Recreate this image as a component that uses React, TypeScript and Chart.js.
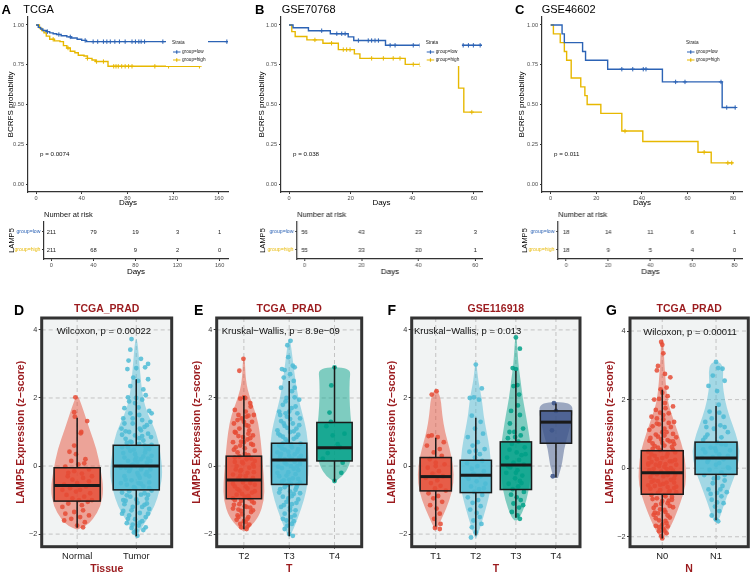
import React, { useEffect, useRef } from "react";
import { Chart, registerables } from "chart.js";

Chart.register(...registerables);

const FONT = "'Liberation Sans', Arial, Helvetica, sans-serif";
Chart.defaults.font.family = FONT;

// ---------- colours ----------
const BLUE = "#2C63B5";
const YELLOW = "#E7B800";
const NPG_RED = "#E64B35";
const NPG_BLUE = "#4DBBD5";
const NPG_GREEN = "#00A087";
const NPG_NAVY = "#3C5488";
const DARK_RED = "#9B1B1E";
const PANEL_BG = "#F1F3F3";

// ---------- Kaplan–Meier data ----------
const KM_Y_TICKS = [0, 0.25, 0.5, 0.75, 1];
const RISK_GROUPS = ["group=high", "group=low"];
const STRATA = ["group=low", "group=high"];

// A: TCGA
const A_X_TICKS = [0, 40, 80, 120, 160];
const A_LOW_T = [0, 2, 4, 6, 9, 12, 15, 18, 22, 27, 31, 36, 40, 44, 168];
const A_LOW_S = [1, 0.985, 0.975, 0.965, 0.958, 0.95, 0.945, 0.94, 0.932, 0.925, 0.918, 0.91, 0.903, 0.895, 0.895];
const A_HIGH_T = [0, 3, 5, 7, 9, 12, 16, 21, 24, 27, 30, 34, 37, 42, 45, 49, 52, 63, 143];
const A_HIGH_S = [1, 0.98, 0.965, 0.95, 0.93, 0.91, 0.9, 0.895, 0.87, 0.855, 0.835, 0.825, 0.81, 0.805, 0.79, 0.78, 0.77, 0.74, 0.74];
const A_LOW_CENS = [10, 20, 30, 43, 50, 54, 59, 62, 65, 69, 73, 78, 84, 87, 90, 92, 95, 111, 167];
const A_HIGH_CENS = [15, 28, 45, 53, 59, 68, 70, 72, 75, 78, 81, 84, 104, 116, 143];
const A_RISK_LOW = [211, 79, 19, 3, 1];
const A_RISK_HIGH = [211, 68, 9, 2, 0];
const A_PVAL = "p = 0.0074";

// B: GSE70768
const B_X_TICKS = [0, 20, 40, 60];
const B_LOW_T = [0, 1.3, 6.3, 13.4, 19.2, 21, 31.3, 62.6];
const B_LOW_S = [1, 0.982, 0.964, 0.945, 0.925, 0.902, 0.872, 0.872];
const B_HIGH_T = [0, 0.9, 2, 5.8, 11, 16, 21.2, 23, 37.7, 55, 56.7, 62.6];
const B_HIGH_S = [1, 0.958, 0.927, 0.906, 0.885, 0.845, 0.818, 0.79, 0.752, 0.603, 0.452, 0.452];
const B_LOW_CENS = [10.6, 15.5, 17.1, 18.2, 22.5, 25.7, 26.8, 27.9, 29, 32.8, 34.4, 40.3, 42.5, 56.5, 58.2, 59.8, 62];
const B_HIGH_CENS = [8.4, 13.8, 17.6, 18.7, 19.8, 26.8, 30.6, 33.8, 36, 40.3, 42.5, 59.3];
const B_RISK_LOW = [56, 43, 23, 3];
const B_RISK_HIGH = [55, 33, 20, 1];
const B_PVAL = "p = 0.038";

// C: GSE46602
const C_X_TICKS = [0, 20, 40, 60, 80];
const C_LOW_T = [0, 5, 6, 14, 15.3, 25, 49, 75.2, 81.2];
const C_LOW_S = [1, 0.944, 0.889, 0.833, 0.778, 0.722, 0.642, 0.481, 0.481];
const C_HIGH_T = [0, 1.2, 4.2, 6, 7, 9, 13.2, 15, 16, 22, 31.2, 40.4, 64.6, 70.4, 80];
const C_HIGH_S = [1, 0.944, 0.889, 0.833, 0.778, 0.667, 0.611, 0.556, 0.5, 0.444, 0.333, 0.267, 0.2, 0.133, 0.133];
const C_LOW_CENS = [31.2, 36, 40.6, 41.8, 54.8, 58.9, 74.7, 77.2, 80.9];
const C_HIGH_CENS = [32.6, 67.3, 77.7, 79.4];
const C_RISK_LOW = [18, 14, 11, 6, 1];
const C_RISK_HIGH = [18, 9, 5, 4, 0];
const C_PVAL = "p = 0.011";

// ---------- violin / box data ----------
const EXPR_Y_TICKS = [-2, 0, 2, 4];

// D: tissue
const D_CATS = ["Normal", "Tumor"];
const D_NORMAL_VIOLIN = [[-1.86, 0.02], [-1.77, 0.14], [-1.57, 0.27], [-1.18, 0.4], [-0.69, 0.45], [-0.1, 0.4], [0.49, 0.33], [1.08, 0.21], [1.67, 0.1], [2.05, 0.02]];
const D_TUMOR_VIOLIN = [[-2.08, 0.02], [-1.9, 0.06], [-1.6, 0.17], [-1.2, 0.31], [-0.7, 0.4], [-0.2, 0.45], [0.5, 0.4], [1.0, 0.34], [1.5, 0.2], [2.0, 0.11], [2.84, 0.06], [3.73, 0.02]];
const D_NORMAL_BOX = [-1.81, -1.03, -0.57, -0.05, 1.42];
const D_TUMOR_BOX = [-2.06, -0.7, 0, 0.61, 2.55];
const D_NORMAL_PTS = [[-0.03,2.02],[-0.05,1.58],[0.17,1.32],[-0.04,1.45],[0.07,1.0],[0.06,0.96],[-0.13,0.42],[-0.02,0.35],[0.14,0.2],[-0.1,0.15],[0.02,0.05],[0.12,0.08],[-0.2,-0.02],[0.2,-0.1],[-0.05,-0.15],[0.08,-0.22],[-0.16,-0.3],[0.1,-0.35],[-0.08,-0.4],[0.2,-0.45],[0.0,-0.5],[-0.22,-0.55],[0.15,-0.6],[-0.12,-0.65],[0.05,-0.7],[-0.02,-0.75],[0.22,-0.8],[-0.18,-0.85],[0.12,-0.9],[-0.08,-0.95],[0.03,-1.0],[0.18,-1.05],[-0.15,-1.1],[0.08,-1.15],[-0.25,-1.2],[0.1,-1.3],[-0.05,-1.35],[-0.2,-1.4],[0.2,-1.45],[0.05,-1.5],[-0.1,-1.55],[-0.22,-1.6],[0.13,-1.65],[0.0,-1.75],[0.1,-1.8],[-0.15,-0.2],[0.25,-0.3],[-0.25,-0.7],[0.25,-1.0],[-0.05,0.6]];
const D_TUMOR_PTS = [[-0.08,3.73],[-0.1,3.42],[-0.13,3.1],[0.08,3.15],[0.2,3.0],[-0.15,2.85],[0.0,2.88],[0.15,2.9],[-0.05,2.6],[0.03,2.5],[0.2,2.55],[-0.1,2.35],[0.12,2.25],[-0.14,2.02],[0.0,2.0],[0.16,2.08],[-0.02,1.85],[0.22,1.62],[0.26,1.55],[-0.2,1.7],[0.05,1.5],[-0.22,1.4],[0.1,1.35],[-0.06,1.25],[0.18,1.2],[-0.25,1.1],[0.08,1.05],[-0.12,1.0],[0.2,0.95],[-0.02,0.9],[0.25,0.85],[-0.18,0.8],[0.12,0.75],[-0.08,0.7],[0.05,0.65],[-0.24,0.55],[0.22,0.5],[-0.1,0.45],[0.15,0.4],[-0.02,0.35],[0.26,0.3],[-0.2,0.25],[0.08,0.2],[-0.14,0.15],[0.18,0.1],[-0.05,0.05],[0.1,-0.02],[-0.26,-0.05],[0.24,-0.1],[-0.12,-0.15],[0.02,-0.2],[0.16,-0.25],[-0.2,-0.3],[0.06,-0.35],[-0.08,-0.42],[0.22,-0.48],[-0.16,-0.55],[0.12,-0.6],[-0.02,-0.66],[0.26,-0.72],[-0.24,-0.78],[0.08,-0.84],[-0.1,-0.9],[0.18,-0.96],[-0.18,-1.02],[0.02,-1.08],[0.14,-1.14],[-0.06,-1.2],[0.22,-1.26],[-0.22,-1.32],[0.06,-1.38],[-0.12,-1.45],[0.16,-1.5],[-0.02,-1.56],[0.1,-1.62],[-0.16,-1.68],[0.04,-1.75],[-0.08,-1.82],[0.12,-1.88],[-0.04,-1.95],[0.02,-2.05],[-0.1,1.55],[0.14,0.6],[-0.18,-0.05],[0.2,-0.85],[-0.26,0.0],[0.0,0.25],[0.04,-0.5],[-0.22,-1.0],[0.24,0.15]];
const D_TUMOR_PTS_MORE = [[0.05,0.82],[-0.16,0.68],[0.2,0.58],[-0.04,0.48],[0.12,0.28],[-0.22,0.38],[0.02,0.12],[-0.1,-0.08],[0.18,-0.18],[-0.18,-0.4],[0.08,-0.52],[-0.04,-0.62],[0.22,-0.64],[-0.12,-0.74],[0.14,-0.8],[0.0,-0.98],[-0.2,-1.12],[0.1,-1.2],[-0.08,-1.3],[0.2,-1.4],[-0.14,-1.55],[0.06,-1.66],[-0.06,-1.72],[0.16,-1.8],[0.0,-1.9],[-0.2,1.25],[0.14,1.15],[-0.06,1.4],[0.04,1.72],[-0.12,1.9],[0.1,1.95],[0.24,1.3],[-0.24,0.92],[0.1,0.88],[-0.14,0.55],[0.26,0.62],[-0.02,0.18],[0.22,-0.3],[-0.26,-0.5],[0.04,-0.28],[-0.08,0.02],[0.16,0.48],[-0.18,1.02],[0.06,1.1],[0.18,-1.1],[-0.24,-1.4],[0.08,-0.1],[-0.1,0.72],[0.2,0.22],[-0.16,-0.86]];

// E: T stage TCGA
const E_CATS = ["T2", "T3", "T4"];
const E_T2_VIOLIN = [[-1.9, 0.03], [-1.8, 0.13], [-1.5, 0.33], [-1.0, 0.45], [-0.5, 0.45], [0, 0.42], [0.5, 0.39], [1.0, 0.35], [1.5, 0.28], [2.0, 0.13], [2.5, 0.04], [3.2, 0.02]];
const E_T3_VIOLIN = [[-2.05, 0.02], [-1.9, 0.08], [-1.5, 0.2], [-1.0, 0.33], [-0.5, 0.41], [0, 0.43], [0.5, 0.42], [1.0, 0.39], [1.5, 0.3], [2.0, 0.2], [2.5, 0.14], [3.0, 0.09], [3.75, 0.02]];
const E_T4_VIOLIN = [[-0.45, 0.03], [-0.3, 0.18], [0, 0.33], [0.5, 0.4], [1.0, 0.39], [1.5, 0.35], [2.0, 0.33], [2.5, 0.33], [2.9, 0.36]];
const E_T2_BOX = [-1.86, -0.96, -0.41, 0.29, 2.06];
const E_T3_BOX = [-2.06, -0.54, 0.18, 0.67, 2.5];
const E_T4_BOX = [-0.46, 0.15, 0.54, 1.28, 2.94];
const E_T2_PTS = [[-0.01,3.15],[-0.1,2.8],[0.0,2.02],[-0.08,1.98],[0.03,2.0],[-0.2,1.65],[0.15,1.75],[-0.12,1.5],[0.1,1.48],[0.22,1.5],[-0.05,1.4],[0.18,1.3],[-0.22,1.25],[0.05,1.2],[-0.1,1.1],[0.12,1.05],[-0.18,0.98],[0.2,0.9],[-0.02,0.85],[0.08,0.78],[-0.24,0.7],[0.16,0.65],[-0.08,0.6],[0.02,0.52],[0.24,0.45],[-0.14,0.4],[0.1,0.32],[-0.2,0.25],[0.06,0.2],[-0.04,0.12],[0.2,0.05],[-0.16,0.0],[0.12,-0.05],[-0.06,-0.12],[0.22,-0.18],[-0.24,-0.25],[0.04,-0.3],[-0.12,-0.36],[0.16,-0.42],[-0.02,-0.48],[0.24,-0.55],[-0.2,-0.6],[0.08,-0.66],[-0.1,-0.72],[0.18,-0.78],[-0.16,-0.84],[0.02,-0.9],[0.12,-0.96],[-0.06,-1.02],[0.22,-1.08],[-0.22,-1.14],[0.06,-1.2],[-0.12,-1.28],[0.16,-1.35],[-0.04,-1.42],[0.1,-1.5],[-0.16,-1.58],[0.04,-1.65],[0.12,-1.72],[-0.06,-1.8],[0.08,-1.78],[-0.18,0.55],[0.2,-0.35],[-0.24,-0.95],[0.0,0.7],[0.14,1.85],[-0.14,-1.45],[0.24,0.15],[-0.08,-0.15],[0.0,1.3]];
const E_T2_PTS_MORE = [[0.04,1.6],[-0.14,1.35],[0.1,1.18],[-0.2,1.0],[0.14,0.82],[-0.06,0.72],[0.2,0.62],[-0.22,0.48],[0.02,0.36],[-0.1,0.28],[0.16,0.22],[-0.02,0.08],[0.22,-0.02],[-0.18,-0.1],[0.08,-0.2],[-0.08,-0.28],[0.14,-0.5],[-0.24,-0.52],[0.04,-0.6],[-0.14,-0.68],[0.24,-0.74],[-0.04,-0.82],[0.1,-0.88],[-0.2,-1.0],[0.18,-1.04],[-0.1,-1.12],[0.02,-1.18],[-0.24,-1.25],[0.14,-1.22],[-0.06,-1.32],[0.2,-1.3],[-0.12,-1.5],[0.08,-1.55],[0.0,-1.62],[-0.08,-1.7],[0.06,-1.85],[-0.2,0.12],[0.1,0.95],[-0.12,0.88],[0.06,1.45]];
const E_T3_PTS = [[0.03,3.68],[-0.04,3.55],[-0.02,3.2],[0.08,2.95],[0.12,2.9],[-0.1,2.82],[-0.16,2.85],[0.02,2.7],[-0.12,2.6],[0.1,2.5],[-0.18,2.3],[-0.06,2.0],[0.12,2.02],[0.22,1.95],[-0.14,1.8],[0.05,1.7],[-0.22,1.6],[0.18,1.55],[-0.05,1.45],[0.24,1.4],[-0.18,1.32],[0.08,1.25],[-0.1,1.18],[0.16,1.1],[-0.26,1.05],[0.02,1.0],[0.2,0.92],[-0.14,0.86],[0.1,0.8],[-0.04,0.72],[0.25,0.66],[-0.22,0.6],[0.06,0.55],[-0.1,0.48],[0.18,0.42],[-0.18,0.36],[0.0,0.3],[0.22,0.24],[-0.24,0.18],[0.12,0.12],[-0.06,0.05],[0.04,0.0],[-0.16,-0.06],[0.2,-0.12],[-0.02,-0.18],[0.14,-0.24],[-0.22,-0.3],[0.08,-0.36],[-0.12,-0.42],[0.24,-0.48],[-0.04,-0.55],[0.16,-0.62],[-0.2,-0.68],[0.02,-0.75],[0.1,-0.82],[-0.14,-0.9],[0.2,-0.98],[-0.06,-1.05],[0.06,-1.12],[-0.18,-1.2],[0.14,-1.3],[-0.1,-1.4],[0.04,-1.5],[-0.14,-1.55],[0.1,-1.62],[-0.04,-1.75],[0.0,-2.0],[0.08,-2.05],[-0.2,0.9],[0.18,0.0],[-0.26,-0.2],[0.24,-0.8],[-0.08,1.55],[0.02,-1.3],[0.12,2.3],[-0.1,0.2]];
const E_T3_PTS_MORE = [[0.06,2.2],[-0.08,1.9],[0.14,1.75],[-0.2,1.5],[0.02,1.38],[-0.12,1.25],[0.22,1.2],[-0.04,1.12],[0.1,1.02],[-0.24,0.95],[0.16,0.85],[-0.08,0.78],[0.04,0.64],[-0.16,0.52],[0.2,0.5],[-0.02,0.42],[0.12,0.34],[-0.2,0.28],[0.06,0.22],[-0.1,0.1],[0.24,0.06],[-0.24,-0.02],[0.1,-0.08],[-0.06,-0.28],[0.2,-0.38],[-0.16,-0.46],[0.04,-0.52],[-0.1,-0.62],[0.14,-0.7],[-0.22,-0.78],[0.06,-0.88],[-0.02,-0.95],[0.16,-1.08],[-0.12,-1.15],[0.02,-1.22],[0.12,-1.45],[-0.06,-1.6],[0.06,-1.7],[-0.1,-1.85],[0.0,1.6],[-0.14,0.66],[0.18,-0.55],[-0.26,0.4],[0.26,0.3],[0.0,-0.4]];
const E_T4_PTS = [[0.0,2.9],[-0.07,2.37],[-0.11,1.57],[-0.18,1.17],[-0.04,0.9],[0.07,0.64],[-0.15,0.38],[-0.26,0.22],[0.18,0.1],[0.15,-0.2],[0.0,-0.44],[0.12,0.55],[-0.08,1.3],[0.22,0.95]];

// F: T stage GSE116918
const F_CATS = ["T1", "T2", "T3", "T4"];
const F_T1_VIOLIN = [[-1.85, 0.03], [-1.5, 0.17], [-1.0, 0.35], [-0.5, 0.45], [0, 0.44], [0.5, 0.35], [1.0, 0.23], [1.5, 0.16], [2.0, 0.125], [2.25, 0.03]];
const F_T2_VIOLIN = [[-2.1, 0.02], [-2.0, 0.06], [-1.5, 0.19], [-1.0, 0.31], [-0.5, 0.4], [0, 0.38], [0.5, 0.35], [1.0, 0.27], [1.5, 0.19], [2.0, 0.15], [2.5, 0.06], [3.0, 0.02]];
const F_T3_VIOLIN = [[-1.6, 0.03], [-1.5, 0.12], [-1.0, 0.27], [-0.5, 0.35], [0, 0.38], [0.5, 0.38], [1.0, 0.32], [1.5, 0.25], [2.0, 0.17], [2.5, 0.12], [3.0, 0.06], [3.8, 0.02]];
const F_T4_VIOLIN = [[-0.35, 0.05], [0, 0.15], [0.5, 0.2], [1.0, 0.32], [1.5, 0.42], [1.88, 0.4]];
const F_T1_BOX = [-1.78, -0.73, -0.31, 0.25, 0.83];
const F_T2_BOX = [-2.04, -0.78, -0.27, 0.17, 1.42];
const F_T3_BOX = [-1.52, -0.69, 0.03, 0.71, 2.8];
const F_T4_BOX = [-0.34, 0.67, 1.29, 1.62, 1.84];
const F_T1_PTS = [[-0.1,2.1],[0.02,2.2],[-0.18,0.88],[-0.1,0.9],[0.05,0.85],[0.2,0.7],[-0.22,0.6],[0.1,0.5],[-0.05,0.4],[0.15,0.3],[-0.15,0.2],[0.0,0.1],[0.22,0.05],[-0.2,-0.05],[0.08,-0.15],[-0.08,-0.22],[0.18,-0.3],[-0.25,-0.35],[0.04,-0.42],[-0.12,-0.5],[0.12,-0.58],[-0.02,-0.66],[0.25,-0.72],[-0.18,-0.8],[0.06,-0.88],[-0.06,-0.95],[0.16,-1.05],[-0.14,-1.15],[0.02,-1.25],[0.1,-1.4],[-0.04,-1.55],[0.12,-1.7],[-0.02,-1.82],[0.1,-1.85],[0.0,0.0]];
const F_T2_PTS = [[0.0,2.98],[0.15,2.28],[-0.05,2.02],[-0.15,2.0],[0.08,1.95],[-0.1,1.48],[0.12,1.3],[-0.02,1.1],[0.18,0.95],[-0.2,0.85],[0.05,0.7],[-0.08,0.6],[0.22,0.5],[-0.16,0.42],[0.1,0.35],[-0.02,0.25],[0.16,0.15],[-0.22,0.08],[0.04,0.0],[-0.1,-0.08],[0.2,-0.15],[-0.06,-0.22],[0.12,-0.3],[-0.18,-0.38],[0.02,-0.45],[0.24,-0.52],[-0.12,-0.6],[0.08,-0.68],[-0.04,-0.76],[0.16,-0.85],[-0.2,-0.92],[0.06,-1.0],[-0.08,-1.08],[0.12,-1.18],[-0.14,-1.28],[0.02,-1.38],[0.1,-1.5],[-0.06,-1.6],[0.14,-1.7],[-0.1,-1.8],[0.0,-1.95],[-0.12,-2.1],[0.2,-0.65],[-0.24,-0.3],[0.0,0.45]];
const F_T3_PTS = [[0.0,3.78],[0.1,3.45],[-0.08,2.88],[0.0,2.85],[-0.06,2.35],[0.04,2.38],[0.08,2.1],[0.05,1.78],[-0.12,1.62],[0.1,1.5],[-0.15,1.25],[0.18,1.1],[-0.04,1.0],[0.12,0.9],[-0.2,0.82],[0.06,0.72],[-0.1,0.65],[0.22,0.55],[-0.16,0.48],[0.02,0.4],[0.14,0.32],[-0.22,0.25],[0.08,0.18],[-0.06,0.1],[0.2,0.04],[-0.14,-0.04],[0.04,-0.12],[-0.24,-0.2],[0.16,-0.28],[-0.02,-0.36],[0.1,-0.44],[-0.18,-0.52],[0.06,-0.6],[-0.08,-0.68],[0.2,-0.76],[-0.12,-0.84],[0.02,-0.92],[0.12,-1.0],[-0.06,-1.1],[0.08,-1.22],[-0.1,-1.35],[0.04,-1.45],[0.1,-1.55],[-0.2,0.0],[0.24,0.35],[-0.02,0.85],[0.14,-0.5],[-0.16,1.0],[0.0,-0.2],[0.18,-1.15]];
const F_T4_PTS = [[-0.05,1.85],[0.0,1.62],[-0.1,1.05],[-0.08,-0.3]];

// G: N stage
const G_CATS = ["N0", "N1"];
const G_N0_VIOLIN = [[-2.05, 0.02], [-1.9, 0.09], [-1.5, 0.22], [-1.0, 0.34], [-0.5, 0.44], [0, 0.44], [0.5, 0.4], [1.0, 0.3], [1.5, 0.19], [2.0, 0.09], [3.0, 0.04], [3.75, 0.02]];
const G_N1_VIOLIN = [[-1.55, 0.03], [-1.5, 0.06], [-1.0, 0.16], [-0.5, 0.28], [0, 0.4], [0.5, 0.45], [1.0, 0.37], [1.5, 0.25], [2.0, 0.16], [2.5, 0.12], [2.8, 0.14], [3.1, 0.1]];
const G_N0_BOX = [-2.05, -0.76, -0.13, 0.51, 2.29];
const G_N1_BOX = [-1.52, -0.18, 0.3, 0.76, 1.81];
const G_N0_PTS = [[-0.02,3.68],[0.0,3.6],[0.02,3.35],[-0.08,2.98],[-0.1,2.85],[0.05,2.75],[0.15,2.65],[-0.03,2.3],[0.0,2.2],[0.1,2.1],[-0.15,2.0],[0.05,1.9],[0.2,1.8],[-0.12,1.7],[0.12,1.6],[-0.2,1.5],[0.02,1.42],[0.22,1.35],[-0.06,1.28],[0.16,1.2],[-0.24,1.12],[0.08,1.05],[-0.12,0.98],[0.26,0.9],[-0.02,0.84],[0.14,0.78],[-0.18,0.72],[0.04,0.66],[-0.08,0.6],[0.2,0.54],[-0.26,0.48],[0.1,0.42],[-0.14,0.36],[0.0,0.3],[0.24,0.24],[-0.2,0.18],[0.06,0.12],[-0.06,0.06],[0.16,0.0],[-0.24,-0.06],[0.12,-0.12],[-0.1,-0.18],[0.02,-0.24],[0.22,-0.3],[-0.16,-0.36],[0.08,-0.42],[-0.04,-0.48],[0.26,-0.54],[-0.22,-0.6],[0.14,-0.66],[-0.08,-0.72],[0.04,-0.78],[0.18,-0.84],[-0.18,-0.9],[0.0,-0.96],[0.1,-1.02],[-0.12,-1.08],[0.2,-1.14],[-0.04,-1.2],[0.06,-1.28],[-0.16,-1.36],[0.14,-1.44],[-0.06,-1.52],[0.08,-1.6],[-0.12,-1.68],[0.02,-1.76],[-0.06,-1.84],[0.08,-1.9],[-0.02,-1.98],[0.0,-2.05],[-0.26,0.1],[0.24,-0.2],[-0.2,-0.4],[0.22,0.7],[-0.1,1.3],[0.12,-0.95],[-0.24,0.8],[0.26,-0.7],[0.04,0.95],[-0.14,-1.3],[0.18,0.2],[-0.04,0.15],[0.1,-0.55],[-0.18,-0.15],[0.06,1.75]];
const G_N0_PTS_MORE = [[0.02,1.55],[-0.1,1.45],[0.12,1.32],[-0.18,1.22],[0.04,1.15],[0.2,1.0],[-0.08,0.92],[-0.22,0.88],[0.1,0.82],[0.0,0.74],[-0.14,0.64],[0.18,0.62],[-0.04,0.52],[0.24,0.46],[-0.2,0.4],[0.08,0.34],[-0.1,0.26],[0.14,0.2],[-0.26,0.14],[0.04,0.04],[-0.16,-0.02],[0.2,-0.08],[-0.02,-0.1],[0.1,-0.2],[-0.22,-0.26],[0.16,-0.34],[-0.08,-0.38],[0.02,-0.46],[-0.14,-0.52],[0.22,-0.58],[-0.04,-0.64],[0.12,-0.7],[-0.2,-0.78],[0.06,-0.82],[-0.1,-0.88],[0.18,-0.92],[-0.02,-1.04],[0.14,-1.1],[-0.16,-1.16],[0.04,-1.22],[-0.08,-1.32],[0.1,-1.38],[-0.12,-1.46],[0.06,-1.54],[0.0,-1.64],[-0.06,-1.72],[0.04,-1.82],[0.1,-1.7],[-0.24,0.3],[0.26,0.1],[-0.18,0.56],[0.2,0.78],[0.0,1.05],[-0.04,1.62],[0.08,2.35],[-0.06,2.02],[0.22,-0.42],[-0.26,-0.5],[0.08,-0.02],[-0.12,0.1]];
const G_N1_PTS = [[0.0,3.1],[0.04,2.92],[-0.06,2.7],[0.12,2.9],[0.16,2.55],[-0.14,2.4],[0.02,2.25],[0.05,1.85],[-0.12,1.65],[0.14,1.5],[-0.2,1.35],[0.08,1.25],[-0.04,1.15],[0.22,1.05],[-0.16,0.98],[0.1,0.9],[-0.24,0.82],[0.02,0.75],[0.18,0.68],[-0.1,0.6],[0.26,0.52],[-0.2,0.46],[0.06,0.4],[-0.06,0.32],[0.14,0.26],[-0.16,0.18],[0.0,0.1],[0.22,0.02],[-0.12,-0.05],[0.1,-0.12],[-0.22,-0.2],[0.04,-0.28],[0.16,-0.36],[-0.06,-0.44],[0.12,-0.52],[-0.14,-0.62],[0.02,-0.72],[0.1,-0.82],[-0.08,-0.92],[0.14,-1.02],[-0.02,-1.12],[0.06,-1.25],[-0.08,-1.38],[0.0,-1.5],[0.04,-1.55],[-0.26,0.3],[0.24,0.0],[-0.18,1.2],[0.2,-0.7],[0.0,0.5]];
const G_N1_PTS_MORE = [[0.06,1.62],[-0.08,1.45],[0.16,1.2],[-0.2,0.9],[0.1,0.7],[-0.02,0.58],[0.22,0.36],[-0.14,0.24],[0.06,0.15],[-0.24,0.55],[0.16,-0.2],[-0.04,-0.3],[0.08,-0.62],[-0.1,-0.75],[0.02,-1.0]];

// ---------- panel layout (positions / styles only) ----------
const KM_PANELS: any[] = [
  { letter: "A", title: "TCGA", letterX: 1.5, titleX: 23.3, lowT: A_LOW_T, lowS: A_LOW_S, highT: A_HIGH_T, highS: A_HIGH_S, lowC: A_LOW_CENS, highC: A_HIGH_CENS, xTicks: A_X_TICKS, riskLow: A_RISK_LOW, riskHigh: A_RISK_HIGH, pval: A_PVAL, xMin: -7, xMax: 168, areaLeft: 28, areaRight: 228, canvasRight: 236, riskAreaLeft: 44, yTitleX: 11, riskTitleX: 12 },
  { letter: "B", title: "GSE70768", letterX: 255, titleX: 281.7, lowT: B_LOW_T, lowS: B_LOW_S, highT: B_HIGH_T, highS: B_HIGH_S, lowC: B_LOW_CENS, highC: B_HIGH_CENS, xTicks: B_X_TICKS, riskLow: B_RISK_LOW, riskHigh: B_RISK_HIGH, pval: B_PVAL, xMin: -2.6, xMax: 62.6, areaLeft: 281, areaRight: 482, canvasRight: 489, riskAreaLeft: 297.3, yTitleX: 261.7, riskTitleX: 263.3 },
  { letter: "C", title: "GSE46602", letterX: 515, titleX: 541.7, lowT: C_LOW_T, lowS: C_LOW_S, highT: C_HIGH_T, highS: C_HIGH_S, lowC: C_LOW_CENS, highC: C_HIGH_CENS, xTicks: C_X_TICKS, riskLow: C_RISK_LOW, riskHigh: C_RISK_HIGH, pval: C_PVAL, xMin: -3.8, xMax: 83.9, areaLeft: 542, areaRight: 742, canvasRight: 752, riskAreaLeft: 558.3, yTitleX: 521.7, riskTitleX: 525 },
];

const VIOLIN_PANELS: any[] = [
  { letter: "D", letterX: 14, title: "TCGA_PRAD", xTitle: "Tissue", stat: "Wilcoxon, p = 0.00022", statX: 0.654, cats: D_CATS, canvasLeft: 0, canvasRight: 180, frameLeft: 41.7, frameRight: 171.7, titleX: 20.7, yMin: -2.37, yMax: 4.35,
    groups: [ { color: NPG_RED, violin: D_NORMAL_VIOLIN, box: D_NORMAL_BOX, pts: D_NORMAL_PTS }, { color: NPG_BLUE, violin: D_TUMOR_VIOLIN, box: D_TUMOR_BOX, pts: D_TUMOR_PTS.concat(D_TUMOR_PTS_MORE) } ] },
  { letter: "E", letterX: 194, title: "TCGA_PRAD", xTitle: "T", stat: "Kruskal\u2212Wallis, p = 8.9e\u221209", statX: 0.51, cats: E_CATS, canvasLeft: 185, canvasRight: 370, frameLeft: 216.7, frameRight: 361.7, titleX: 197.3, yMin: -2.37, yMax: 4.35,
    groups: [ { color: NPG_RED, violin: E_T2_VIOLIN, box: E_T2_BOX, pts: E_T2_PTS.concat(E_T2_PTS_MORE) }, { color: NPG_BLUE, violin: E_T3_VIOLIN, box: E_T3_BOX, pts: E_T3_PTS.concat(E_T3_PTS_MORE) }, { color: NPG_GREEN, violin: E_T4_VIOLIN, box: E_T4_BOX, pts: E_T4_PTS } ] },
  { letter: "F", letterX: 387.5, title: "GSE116918", xTitle: "T", stat: "Kruskal\u2212Wallis, p = 0.013", statX: 0.457, cats: F_CATS, canvasLeft: 380, canvasRight: 588, frameLeft: 411.7, frameRight: 580, titleX: 391.7, yMin: -2.37, yMax: 4.35,
    groups: [ { color: NPG_RED, violin: F_T1_VIOLIN, box: F_T1_BOX, pts: F_T1_PTS }, { color: NPG_BLUE, violin: F_T2_VIOLIN, box: F_T2_BOX, pts: F_T2_PTS }, { color: NPG_GREEN, violin: F_T3_VIOLIN, box: F_T3_BOX, pts: F_T3_PTS }, { color: NPG_NAVY, violin: F_T4_VIOLIN, box: F_T4_BOX, pts: F_T4_PTS } ] },
  { letter: "G", letterX: 606, title: "TCGA_PRAD", xTitle: "N", stat: "Wilcoxon, p = 0.00011", statX: 0.647, cats: G_CATS, canvasLeft: 598, canvasRight: 752, frameLeft: 630, frameRight: 748.3, titleX: 610, yMin: -2.29, yMax: 4.38,
    groups: [ { color: NPG_RED, violin: G_N0_VIOLIN, box: G_N0_BOX, pts: G_N0_PTS.concat(G_N0_PTS_MORE) }, { color: NPG_BLUE, violin: G_N1_VIOLIN, box: G_N1_BOX, pts: G_N1_PTS.concat(G_N1_PTS_MORE) } ] },
];

// ---------- helpers ----------
function rgba(hex: string, a: number) {
  const n = parseInt(hex.slice(1), 16);
  return `rgba(${(n >> 16) & 255},${(n >> 8) & 255},${n & 255},${a})`;
}

function survAt(t: number, T: number[], S: number[]) {
  let s = S[0];
  for (let i = 0; i < T.length; i++) if (T[i] <= t) s = S[i];
  return s;
}

const setTicks = (vals: number[]) => (s: any) => {
  s.ticks = vals.map((v) => ({ value: v }));
};

const axisGrid = (len: number) => ({ display: true, drawOnChartArea: false, drawTicks: true, tickLength: len, color: "#333", lineWidth: 1 });

// ---------- KM chart ----------
function kmPlugin(p: any) {
  return {
    id: "kmExtras",
    afterDatasetsDraw(chart: any) {
      const { ctx, chartArea: a, scales } = chart;
      const w = a.right - a.left;
      ctx.save();
      ctx.fillStyle = "#fff";
      ctx.fillRect(a.left + 0.69 * w, a.top + 20, 0.21 * w, 29);
      const lx = a.left + 0.72 * w;
      ctx.font = `4.7px ${FONT}`;
      ctx.textBaseline = "middle";
      ctx.textAlign = "left";
      ctx.fillStyle = "#222";
      ctx.fillText("Strata", lx, a.top + 26);
      [BLUE, YELLOW].forEach((c, i) => {
        const yy = a.top + 35 + i * 8;
        ctx.strokeStyle = c;
        ctx.lineWidth = 1.2;
        ctx.beginPath();
        ctx.moveTo(lx + 1, yy);
        ctx.lineTo(lx + 8.5, yy);
        ctx.moveTo(lx + 4.75, yy - 1.8);
        ctx.lineTo(lx + 4.75, yy + 1.8);
        ctx.stroke();
        ctx.fillStyle = "#222";
        ctx.fillText(STRATA[i], lx + 10, yy);
      });
      ctx.font = `6.2px ${FONT}`;
      ctx.fillStyle = "#111";
      ctx.fillText(p.pval, a.left + 0.06 * w, scales.y.getPixelForValue(0.19));
      ctx.restore();
    },
  };
}

function kmConfig(p: any) {
  const toXY = (T: number[], S: number[]) => T.map((t, i) => ({ x: t, y: S[i] }));
  const cens = (C: number[], T: number[], S: number[]) => C.map((t) => ({ x: t, y: survAt(t, T, S) }));
  const censDs = (data: any[], c: string) => ({ data, showLine: false, pointStyle: "cross", pointRadius: 2.2, pointBorderWidth: 1, pointBorderColor: c, borderColor: c, backgroundColor: c });
  const lineDs = (data: any[], c: string) => ({ data, borderColor: c, borderWidth: 1.4, stepped: true, pointRadius: 0, fill: false });
  const canvasLeft = p.areaLeft - 28;
  return {
    type: "line",
    data: {
      datasets: [
        censDs(cens(p.lowC, p.lowT, p.lowS), BLUE),
        censDs(cens(p.highC, p.highT, p.highS), YELLOW),
        lineDs(toXY(p.lowT, p.lowS), BLUE),
        lineDs(toXY(p.highT, p.highS), YELLOW),
      ],
    },
    options: {
      animation: false,
      responsive: true,
      maintainAspectRatio: false,
      events: [],
      layout: { padding: { left: 0, right: p.canvasRight - p.areaRight, top: 17, bottom: 0 } },
      plugins: { legend: { display: false }, tooltip: { enabled: false } },
      scales: {
        x: {
          type: "linear", min: p.xMin, max: p.xMax,
          afterBuildTicks: setTicks(p.xTicks),
          afterFit: (s: any) => { s.height = 18; },
          ticks: { autoSkip: false, maxRotation: 0, font: { size: 5.6 }, color: "#4D4D4D", padding: 1, callback: (v: any) => String(v) },
          grid: axisGrid(2),
          border: { display: true, color: "#333", width: 1.2 },
          title: { display: true, text: "Days", font: { size: 8 }, color: "#000", padding: { top: 0, bottom: 2.2 } },
        },
        y: {
          type: "linear", min: -0.05, max: 1.05,
          afterBuildTicks: setTicks(KM_Y_TICKS),
          afterFit: (s: any) => { s.width = 28; },
          ticks: { autoSkip: false, font: { size: 5.6 }, color: "#4D4D4D", padding: 2, callback: (v: any) => Number(v).toFixed(2) },
          grid: axisGrid(2),
          border: { display: true, color: "#333", width: 1.2 },
          title: { display: true, text: "BCRFS probability", font: { size: 8 }, color: "#000", padding: { top: p.yTitleX - canvasLeft - 4.8, bottom: 0 } },
        },
      },
    },
    plugins: [kmPlugin(p)],
  };
}

// ---------- risk table ----------
function riskPlugin(p: any) {
  return {
    id: "riskTable",
    afterDraw(chart: any) {
      const { ctx, chartArea: a, scales } = chart;
      ctx.save();
      ctx.font = `5.8px ${FONT}`;
      ctx.textAlign = "center";
      ctx.textBaseline = "middle";
      ctx.fillStyle = "#222";
      p.xTicks.forEach((t: number, i: number) => {
        const px = scales.x.getPixelForValue(t);
        ctx.fillText(String(p.riskLow[i]), px, scales.y.getPixelForValue(2));
        ctx.fillText(String(p.riskHigh[i]), px, scales.y.getPixelForValue(1));
      });
      ctx.font = `7.5px ${FONT}`;
      ctx.textAlign = "left";
      ctx.fillStyle = "#111";
      ctx.fillText("Number at risk", a.left, a.top - 7);
      ctx.restore();
    },
  };
}

function riskConfig(p: any) {
  const canvasLeft = p.riskAreaLeft - 40;
  return {
    type: "scatter",
    data: { datasets: [] },
    options: {
      animation: false,
      responsive: true,
      maintainAspectRatio: false,
      events: [],
      layout: { padding: { left: 0, right: p.canvasRight - p.areaRight, top: 16, bottom: 0 } },
      plugins: { legend: { display: false }, tooltip: { enabled: false } },
      scales: {
        x: {
          type: "linear", min: p.xMin, max: p.xMax,
          afterBuildTicks: setTicks(p.xTicks),
          afterFit: (s: any) => { s.height = 19; },
          ticks: { autoSkip: false, maxRotation: 0, font: { size: 5.6 }, color: "#4D4D4D", padding: 1, callback: (v: any) => String(v) },
          grid: axisGrid(2),
          border: { display: true, color: "#333", width: 1.2 },
          title: { display: true, text: "Days", font: { size: 8 }, color: "#000", padding: { top: 0, bottom: 1.7 } },
        },
        y: {
          type: "linear", min: 0.5, max: 2.55,
          afterBuildTicks: setTicks([1, 2]),
          afterFit: (s: any) => { s.width = 40; },
          ticks: { autoSkip: false, font: { size: 5.2 }, padding: 1.5, color: (c: any) => (c.tick && c.tick.value === 2 ? BLUE : YELLOW), callback: (v: any) => RISK_GROUPS[Math.round(v) - 1] },
          grid: axisGrid(2),
          border: { display: true, color: "#333", width: 1.2 },
          title: { display: true, text: "LAMP5", font: { size: 7.5 }, color: "#000", padding: { top: p.riskTitleX - canvasLeft - 4.5, bottom: 0 } },
        },
      },
    },
    plugins: [riskPlugin(p)],
  };
}

// ---------- violin / box charts ----------
function violinPath(ctx: any, xs: any, ys: any, c: number, prof: number[][]) {
  const right = prof.map(([v, hw]) => [xs.getPixelForValue(c + hw), ys.getPixelForValue(v)]);
  const left = prof.slice().reverse().map(([v, hw]) => [xs.getPixelForValue(c - hw), ys.getPixelForValue(v)]);
  const pts = right.concat(left);
  ctx.beginPath();
  ctx.moveTo(pts[0][0], pts[0][1]);
  for (let i = 1; i < pts.length - 1; i++) {
    const mx = (pts[i][0] + pts[i + 1][0]) / 2;
    const my = (pts[i][1] + pts[i + 1][1]) / 2;
    ctx.quadraticCurveTo(pts[i][0], pts[i][1], mx, my);
  }
  ctx.lineTo(pts[pts.length - 1][0], pts[pts.length - 1][1]);
  ctx.closePath();
}

function violinPlugin(p: any) {
  return {
    id: "violinBox",
    beforeDatasetsDraw(chart: any) {
      const { ctx, chartArea: a, scales } = chart;
      const xs = scales.x, ys = scales.y;
      ctx.save();
      ctx.fillStyle = PANEL_BG;
      ctx.fillRect(a.left, a.top, a.right - a.left, a.bottom - a.top);
      ctx.strokeStyle = "#BDBDBD";
      ctx.lineWidth = 0.9;
      ctx.setLineDash([4, 3]);
      EXPR_Y_TICKS.forEach((v) => {
        const py = ys.getPixelForValue(v);
        ctx.beginPath(); ctx.moveTo(a.left, py); ctx.lineTo(a.right, py); ctx.stroke();
      });
      p.cats.forEach((_: any, i: number) => {
        const px = xs.getPixelForValue(i + 1);
        ctx.beginPath(); ctx.moveTo(px, a.top); ctx.lineTo(px, a.bottom); ctx.stroke();
      });
      ctx.setLineDash([]);
      p.groups.forEach((g: any, i: number) => {
        violinPath(ctx, xs, ys, i + 1, g.violin);
        ctx.fillStyle = rgba(g.color, 0.48);
        ctx.fill();
      });
      ctx.restore();
    },
    afterDatasetsDraw(chart: any) {
      const { ctx, chartArea: a, scales } = chart;
      const xs = scales.x, ys = scales.y;
      ctx.save();
      p.groups.forEach((g: any, i: number) => {
        const [lo, q1, med, q3, hi] = g.box;
        const cx = xs.getPixelForValue(i + 1);
        const x0 = xs.getPixelForValue(i + 1 - 0.39);
        const x1 = xs.getPixelForValue(i + 1 + 0.39);
        ctx.strokeStyle = "#1A1A1A";
        ctx.lineWidth = 1.5;
        ctx.beginPath();
        ctx.moveTo(cx, ys.getPixelForValue(hi)); ctx.lineTo(cx, ys.getPixelForValue(q3));
        ctx.moveTo(cx, ys.getPixelForValue(q1)); ctx.lineTo(cx, ys.getPixelForValue(lo));
        ctx.stroke();
        const yT = ys.getPixelForValue(q3), yB = ys.getPixelForValue(q1);
        ctx.fillStyle = rgba(g.color, 0.8);
        ctx.fillRect(x0, yT, x1 - x0, yB - yT);
        ctx.strokeRect(x0, yT, x1 - x0, yB - yT);
        ctx.lineWidth = 3;
        ctx.beginPath();
        const ym = ys.getPixelForValue(med);
        ctx.moveTo(x0, ym); ctx.lineTo(x1, ym);
        ctx.stroke();
      });
      ctx.strokeStyle = "#333";
      ctx.lineWidth = 3;
      ctx.strokeRect(a.left, a.top, a.right - a.left, a.bottom - a.top);
      ctx.font = `9.5px ${FONT}`;
      ctx.fillStyle = "#111";
      ctx.textAlign = "left";
      ctx.textBaseline = "middle";
      ctx.fillText(p.stat, xs.getPixelForValue(p.statX), ys.getPixelForValue(3.97));
      ctx.restore();
    },
  };
}

function violinConfig(p: any) {
  const n = p.cats.length;
  return {
    type: "scatter",
    data: {
      datasets: p.groups.map((g: any, i: number) => ({
        data: g.pts.map(([dx, y]: number[]) => ({ x: i + 1 + dx, y })),
        pointRadius: 2.4,
        pointHoverRadius: 2.4,
        backgroundColor: rgba(g.color, 0.85),
        borderColor: rgba(g.color, 0.85),
        borderWidth: 0,
      })),
    },
    options: {
      animation: false,
      responsive: true,
      maintainAspectRatio: false,
      events: [],
      layout: { padding: { left: 0, right: p.canvasRight - p.frameRight, top: 18, bottom: 0 } },
      plugins: { legend: { display: false }, tooltip: { enabled: false } },
      scales: {
        x: {
          type: "linear", min: 0.4, max: n + 0.6,
          afterBuildTicks: setTicks(p.cats.map((_: any, i: number) => i + 1)),
          afterFit: (s: any) => { s.height = 29.3; },
          ticks: { autoSkip: false, maxRotation: 0, minRotation: 0, font: { size: 9.4 }, color: "#1A1A1A", padding: 2, callback: (v: any) => p.cats[Math.round(v) - 1] },
          grid: axisGrid(2),
          border: { display: false },
          title: { display: true, text: p.xTitle, color: DARK_RED, font: { size: 10.5, weight: "bold" }, padding: { top: 0, bottom: 0.7 } },
        },
        y: {
          type: "linear", min: p.yMin, max: p.yMax,
          afterBuildTicks: setTicks(EXPR_Y_TICKS),
          afterFit: (s: any) => { s.width = p.frameLeft - p.canvasLeft; },
          ticks: { autoSkip: false, font: { size: 7.3 }, color: "#333", padding: 1.5, callback: (v: any) => (v < 0 ? "\u2212" + Math.abs(v) : String(v)) },
          grid: axisGrid(3),
          border: { display: false },
          title: { display: true, text: "LAMP5 Expression (z\u2212score)", color: DARK_RED, font: { size: 10.4, weight: "bold" }, padding: { top: p.titleX - p.canvasLeft - 6.24, bottom: 0 } },
        },
      },
    },
    plugins: [violinPlugin(p)],
  };
}

// ---------- React ----------
function ChartBox({ left, top, width, height, make }: any) {
  const ref = useRef<HTMLCanvasElement | null>(null);
  useEffect(() => {
    const chart = new Chart(ref.current as any, make());
    return () => chart.destroy();
  }, []);
  return (
    <div style={{ position: "absolute", left, top, width, height }}>
      <canvas ref={ref} />
    </div>
  );
}

function Txt({ x, cy, size, bold, color, center, children }: any) {
  return (
    <div
      style={{
        position: "absolute",
        left: x,
        top: cy - 0.49 * size,
        fontSize: size,
        lineHeight: 1,
        fontWeight: bold ? 700 : 400,
        color: color || "#000",
        whiteSpace: "nowrap",
        fontFamily: FONT,
        transform: center ? "translateX(-50%)" : undefined,
      }}
    >
      {children}
    </div>
  );
}

export default function App() {
  return (
    <div style={{ position: "fixed", left: 0, top: 0, width: 752, height: 576, background: "#fff", overflow: "hidden" }}>
      {KM_PANELS.map((p, i) => (
        <React.Fragment key={"km" + i}>
          <ChartBox left={p.areaLeft - 28} top={0} width={p.canvasRight - (p.areaLeft - 28)} height={210} make={() => kmConfig(p)} />
          <ChartBox left={p.riskAreaLeft - 40} top={206} width={p.canvasRight - (p.riskAreaLeft - 40)} height={72} make={() => riskConfig(p)} />
          <Txt x={p.letterX} cy={9} size={13} bold>{p.letter}</Txt>
          <Txt x={p.titleX} cy={9.2} size={11}>{p.title}</Txt>
        </React.Fragment>
      ))}
      {VIOLIN_PANELS.map((p, i) => (
        <React.Fragment key={"vi" + i}>
          <ChartBox left={p.canvasLeft} top={300} width={p.canvasRight - p.canvasLeft} height={276} make={() => violinConfig(p)} />
          <Txt x={p.letterX} cy={310} size={14} bold>{p.letter}</Txt>
          <Txt x={(p.frameLeft + p.frameRight) / 2} cy={308.3} size={10.5} bold color={DARK_RED} center>{p.title}</Txt>
        </React.Fragment>
      ))}
    </div>
  );
}
